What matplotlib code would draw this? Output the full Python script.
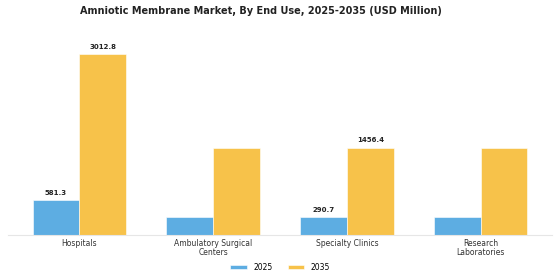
import matplotlib
matplotlib.use("Agg")
import matplotlib.pyplot as plt
import numpy as np

categories = ["Hospitals", "Ambulatory Surgical\nCenters", "Specialty Clinics", "Research\nLaboratories"]
values_2025 = [581.3, 290.7, 290.7, 290.7]
values_2035 = [3012.8, 1456.4, 1456.4, 1456.4]
labels_2025 = ["581.3", "", "290.7", ""]
labels_2035 = ["3012.8", "", "1456.4", ""]

c2025 = "#5DADE2"
c2035 = "#F7C24A"

fig = plt.figure(figsize=(5.6, 2.8), dpi=100)
ax = fig.add_axes([0.014, 0.161, 0.972, 0.678])
x = np.arange(len(categories))
w = 0.35
b1 = ax.bar(x - w/2, values_2025, w, color=c2025, label="2025", edgecolor="white", linewidth=0.4)
b2 = ax.bar(x + w/2, values_2035, w, color=c2035, label="2035", edgecolor="white", linewidth=0.4)

for rect, lab in zip(b1, labels_2025):
    if lab:
        ax.annotate(lab, (rect.get_x() + rect.get_width()/2, rect.get_height()),
                    xytext=(0, 3), textcoords="offset points", ha="center", va="bottom",
                    fontsize=5, fontweight="bold", color="#222222")
for rect, lab in zip(b2, labels_2035):
    if lab:
        ax.annotate(lab, (rect.get_x() + rect.get_width()/2, rect.get_height()),
                    xytext=(0, 3), textcoords="offset points", ha="center", va="bottom",
                    fontsize=5, fontweight="bold", color="#222222")

ax.set_xticks(x)
ax.set_xticklabels(categories, fontsize=5.5, color="#333333", linespacing=1.0)
ax.tick_params(axis="x", length=0, pad=3)
ax.set_yticks([])
for s in ["top", "right", "left"]:
    ax.spines[s].set_visible(False)
ax.spines["bottom"].set_color("#e6e6e6")
ax.spines["bottom"].set_linewidth(0.8)
ax.set_ylim(0, 3012.8 * 1.05)

fig.suptitle("Amniotic Membrane Market, By End Use, 2025-2035 (USD Million)",
             fontsize=7, fontweight="bold", x=0.466, y=0.98, color="#222222")
ax.legend(loc="upper center", bbox_to_anchor=(0.5, -0.11), ncol=2, frameon=False,
          fontsize=5.5, handlelength=2.2, handleheight=0.6, columnspacing=2.0)
fig.savefig("out.png", dpi=100)
